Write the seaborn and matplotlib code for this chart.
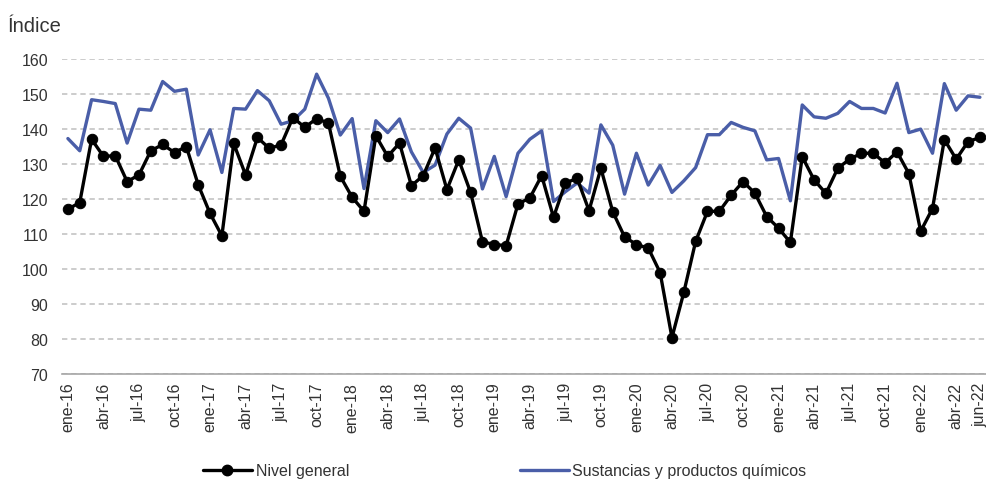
import numpy as np
import pandas as pd
import matplotlib
matplotlib.use("Agg")
import matplotlib.pyplot as plt
import seaborn as sns
from matplotlib.lines import Line2D

months = ["ene", "feb", "mar", "abr", "may", "jun", "jul", "ago", "sep", "oct", "nov", "dic"]
periods = [f"{m}-{y}" for y in range(16, 23) for m in months][:78]

nivel_general = [117.1, 119.0, 137.1, 132.2, 132.4, 125.0, 126.9, 133.8, 135.6, 133.3, 135.0, 124.1,
                 115.9, 109.5, 135.9, 126.9, 137.6, 134.5, 135.5, 143.3, 140.5, 143.0, 141.7, 126.5,
                 120.5, 116.5, 138.1, 132.2, 136.0, 123.8, 126.7, 134.6, 122.7, 131.2, 121.9, 107.8,
                 107.0, 106.7, 118.6, 120.3, 126.7, 114.8, 124.6, 125.9, 116.7, 128.8, 116.4, 109.2,
                 107.0, 106.0, 99.0, 80.4, 93.3, 107.9, 116.5, 116.5, 121.1, 125.0, 121.7, 115.0,
                 111.7, 107.6, 132.1, 125.5, 121.6, 128.8, 131.4, 133.1, 133.1, 130.3, 133.5, 127.3,
                 110.8, 117.3, 137.0, 131.4, 136.4, 137.6]

quimicos = [137.3, 133.8, 148.4, 147.9, 147.3, 136.0, 145.7, 145.4, 153.6, 150.8, 151.4, 132.6,
            139.8, 127.6, 145.9, 145.7, 151.0, 148.1, 141.4, 142.4, 145.7, 155.7, 148.8, 138.3,
            143.0, 123.0, 142.4, 139.0, 142.9, 133.5, 127.6, 129.7, 138.6, 143.1, 140.3, 122.9,
            132.2, 120.7, 133.1, 137.1, 139.5, 119.3, 122.1, 124.6, 121.7, 141.2, 135.4, 121.4,
            133.1, 124.0, 129.6, 121.9, 125.2, 129.0, 138.4, 138.4, 141.9, 140.5, 139.5, 131.2,
            131.6, 119.5, 146.9, 143.5, 143.1, 144.5, 147.9, 145.9, 145.9, 144.6, 153.1, 139.0,
            140.0, 133.1, 153.0, 145.4, 149.5, 149.1]

label_names = ["Nivel general", "Sustancias y productos químicos"]
yticks = [70, 80, 90, 100, 110, 120, 130, 140, 150, 160]

sns.set_theme(style="white")
plt.rcParams["font.family"] = ["Liberation Sans", "DejaVu Sans"]

n = len(periods)
df = pd.DataFrame({"idx": np.arange(n), "periodo": periods,
                   label_names[0]: nivel_general, label_names[1]: quimicos})

fig = plt.figure(figsize=(9.87, 4.81), dpi=100)
ax = fig.add_axes([0.0628, 0.2204, 0.936, 0.6546])

blue = "#4a5ea8"
txt = "#333333"
fs = 11.5
sns.lineplot(data=df, x="idx", y=label_names[1], ax=ax, color=blue, linewidth=2.4, zorder=3)
sns.lineplot(data=df, x="idx", y=label_names[0], ax=ax, color="black", linewidth=2.4,
             marker="o", markersize=7.5, markeredgecolor="black", zorder=4)

ax.set_xlim(-0.5, n - 0.5)
ax.set_ylim(70, 160)
ax.set_yticks(yticks)
ax.set_yticklabels([str(v) for v in yticks], fontsize=fs, color=txt)
ax.yaxis.grid(True, linestyle=(0, (3.5, 2.5)), color="#bfbfbf", linewidth=1.1)
ax.set_axisbelow(True)

label_pos = list(range(0, n, 3)) + [n - 1]
ax.set_xticks(label_pos)
ax.set_xticklabels([periods[i] for i in label_pos], rotation=90, fontsize=fs, color=txt)
ax.tick_params(axis="x", length=0, pad=5.5)
ax.set_xticks(np.arange(-0.5, n, 1.0), minor=True)
ax.tick_params(axis="x", which="minor", length=5, width=1, color="#a6a6a6", direction="out")
ax.tick_params(axis="y", length=0, pad=10)

for s in ["top", "right", "left"]:
    ax.spines[s].set_visible(False)
ax.spines["bottom"].set_color("#a6a6a6")
ax.spines["bottom"].set_linewidth(1.2)
ax.set_xlabel("")
ax.set_ylabel("")

fig.text(0.008, 1 - 32 / 481, "Índice", fontsize=14.5, color=txt, ha="left", va="baseline")

handles = [Line2D([0], [0], color="black", linewidth=2.4, marker="o", markersize=7.5),
           Line2D([0], [0], color=blue, linewidth=2.4)]
fig.legend(handles, label_names, loc="center left", bbox_to_anchor=(0.199, 0.019), ncol=2,
           frameon=False, fontsize=fs, handlelength=3.05, handletextpad=0.25,
           columnspacing=10.7, borderaxespad=0, labelcolor=txt)

fig.savefig("out.png", dpi=100)
